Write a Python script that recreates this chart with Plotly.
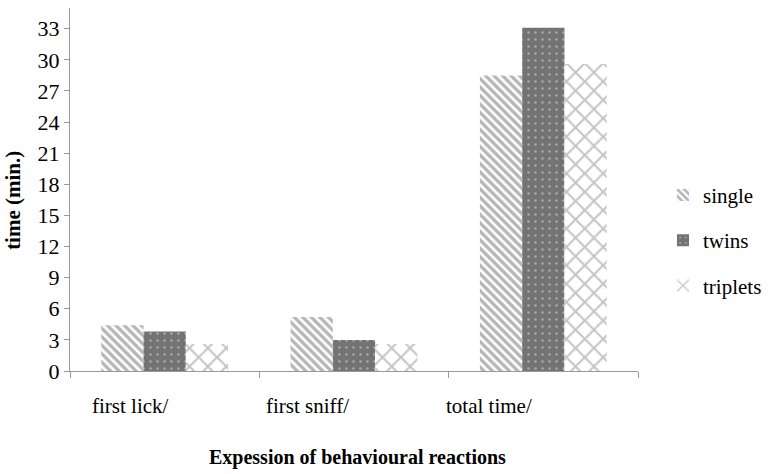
import plotly.graph_objects as go

# Behavioural reaction times (minutes) by litter type
categories = ["first lick/", "first sniff/", "total time/"]
single = [4.4, 5.2, 28.5]
twins = [3.8, 3.0, 33.1]
triplets = [2.6, 2.6, 29.6]
y_ticks = [0, 3, 6, 9, 12, 15, 18, 21, 24, 27, 30, 33]

SERIF = "Liberation Serif"

fig = go.Figure()
fig.add_trace(go.Bar(
    name="single", x=categories, y=single, legendgroup="a",
    marker=dict(color="#6e6e6e", line=dict(width=0),
                pattern=dict(shape="\\", fgcolor="#6e6e6e", bgcolor="white",
                             size=6, solidity=0.55)),
))
fig.add_trace(go.Bar(
    name="twins", x=categories, y=twins, legendgroup="b",
    marker=dict(color="#737373", line=dict(width=0),
                pattern=dict(shape=".", fgcolor="#e0e0e0", bgcolor="#737373",
                             size=7, solidity=0.1)),
))
fig.add_trace(go.Bar(
    name="triplets", x=categories, y=triplets, legendgroup="c",
    marker=dict(color="#8c8c8c", line=dict(width=0),
                pattern=dict(shape="x", fgcolor="#8c8c8c", bgcolor="white",
                             size=13, solidity=0.3)),
))

# Category labels sit slightly left of their bar groups
label_shift = [-34, -47, -54]
for cat, dx in zip(categories, label_shift):
    fig.add_annotation(x=cat, y=0, xref="x", yref="y", yanchor="top",
                       text=cat, showarrow=False, xshift=dx, yshift=-21,
                       font=dict(family=SERIF, size=21, color="black"))

fig.add_annotation(x=-0.0995, y=0.47, xref="paper", yref="paper",
                   text="<b>time (min.)</b>", textangle=-90, showarrow=False,
                   xanchor="center", yanchor="middle",
                   font=dict(family=SERIF, size=21, color="black"))
fig.add_annotation(x=0.507, y=-0.2, xref="paper", yref="paper",
                   text="<b>Expession of behavioural reactions</b>",
                   showarrow=False, xanchor="center", yanchor="top",
                   font=dict(family=SERIF, size=20, color="black"))

fig.update_layout(
    width=775, height=474,
    margin=dict(l=70, r=132, t=8, b=103),
    paper_bgcolor="white", plot_bgcolor="white",
    barmode="group", bargap=0.33, bargroupgap=0,
    font=dict(family=SERIF, size=21, color="black"),
    legend=dict(x=1.044, y=0.36, xanchor="left", yanchor="middle",
                font=dict(family=SERIF, size=21, color="black"),
                tracegroupgap=15, traceorder="grouped",
                itemwidth=30),
    xaxis=dict(showticklabels=False, tickson="boundaries", ticks="outside",
               ticklen=6, tickcolor="#999999", showline=True,
               linecolor="#999999", linewidth=1, showgrid=False),
    yaxis=dict(range=[0, 35], tickvals=y_ticks, ticks="outside", ticklen=5,
               tickcolor="#999999", showline=True, linecolor="#999999",
               linewidth=1, showgrid=False, zeroline=False,
               tickfont=dict(family=SERIF, size=22, color="black")),
)

fig.write_html("out.html")
